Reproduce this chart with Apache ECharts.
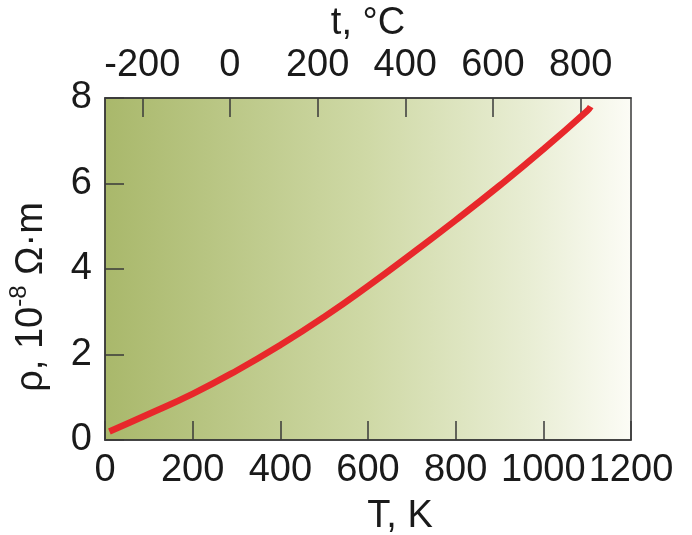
<!DOCTYPE html>
<html>
<head>
<meta charset="utf-8">
<script src="https://cdn.jsdelivr.net/npm/echarts@6/dist/echarts.min.js"></script>
<style>
  html, body { margin: 0; padding: 0; background: #ffffff; }
  #chart { width: 692px; height: 535px; }
</style>
</head>
<body>
<div id="chart"></div>
<script>
// Resistivity versus absolute temperature
const temperatureK = [10, 100, 200, 300, 400, 500, 600, 700, 800, 900, 1000, 1100, 1108];
const resistivity  = [0.20, 0.61, 1.08, 1.62, 2.22, 2.88, 3.60, 4.36, 5.14, 5.95, 6.80, 7.70, 7.80];

// Tick labels
const kelvinTicks = [0, 200, 400, 600, 800, 1000, 1200];
const celsiusTicks = [-200, 0, 200, 400, 600, 800];
const rhoTicks = [0, 2, 4, 6, 8];

const FONT = '"Liberation Sans", Arial, sans-serif';
const TXT = '#1a1a1a';
const AXIS = '#3a3a3a';
const FS = 38;

const chart = echarts.init(document.getElementById('chart'), null, { renderer: 'canvas' });

const points = temperatureK.map((t, i) => [t, resistivity[i]]);
const plain = v => String(v);

chart.setOption({
  animation: false,
  backgroundColor: '#ffffff',
  grid: {
    left: 105, right: 61, top: 98, bottom: 95,
    outerBoundsMode: 'none',
    containLabel: false,
    show: true,
    borderColor: AXIS,
    borderWidth: 1.5,
    backgroundColor: {
      type: 'linear', x: 0, y: 0, x2: 1, y2: 0,
      colorStops: [
        { offset: 0, color: '#a9b86b' },
        { offset: 0.5, color: '#cfd9a6' },
        { offset: 0.8, color: '#e8edd3' },
        { offset: 1, color: '#fcfcf6' }
      ]
    }
  },
  xAxis: [
    {
      type: 'value', position: 'bottom',
      min: kelvinTicks[0], max: kelvinTicks[kelvinTicks.length - 1], interval: 200,
      name: 'T, K', nameLocation: 'middle', nameGap: 58,
      nameTextStyle: { fontFamily: FONT, fontSize: FS, color: TXT, padding: [0, 0, 0, 64] },
      axisLine: { show: true, lineStyle: { color: AXIS, width: 1.5 } },
      axisTick: { show: true, inside: true, length: 19, lineStyle: { color: AXIS, width: 1.5 } },
      axisLabel: { fontFamily: FONT, fontSize: FS, color: TXT, margin: 12, formatter: plain,
                   showMinLabel: true, showMaxLabel: true, hideOverlap: false },
      splitLine: { show: false }
    },
    {
      type: 'value', position: 'top',
      min: -285, max: 915,
      name: 't, °C', nameLocation: 'middle', nameGap: 47,
      nameTextStyle: { fontFamily: FONT, fontSize: FS, color: TXT },
      axisLine: { show: true, lineStyle: { color: AXIS, width: 1.5 } },
      axisTick: { show: true, inside: true, length: 19, customValues: celsiusTicks,
                  lineStyle: { color: AXIS, width: 1.5 } },
      axisLabel: { fontFamily: FONT, fontSize: FS, color: TXT, margin: 13, customValues: celsiusTicks,
                   formatter: plain },
      splitLine: { show: false }
    }
  ],
  yAxis: [
    {
      type: 'value', position: 'left',
      min: rhoTicks[0], max: rhoTicks[rhoTicks.length - 1], interval: 2,
      name: '{n|ρ, 10}{s|-8}{n| Ω·m}', nameLocation: 'middle', nameGap: 54, nameRotate: 90,
      nameTextStyle: {
        fontFamily: FONT, color: TXT, padding: [0, 56, 0, 0],
        rich: {
          n: { fontFamily: FONT, fontSize: FS, color: TXT, verticalAlign: 'bottom', lineHeight: 44 },
          s: { fontFamily: FONT, fontSize: 24, color: TXT, verticalAlign: 'top', lineHeight: 44, padding: [0, 0, 16, 0] }
        }
      },
      axisLine: { show: true, lineStyle: { color: AXIS, width: 1.5 } },
      axisTick: { show: true, inside: true, length: 19, lineStyle: { color: AXIS, width: 1.5 } },
      axisLabel: { fontFamily: FONT, fontSize: FS, color: TXT, margin: 13, formatter: plain },
      splitLine: { show: false }
    }
  ],
  series: [
    {
      type: 'line',
      data: points,
      xAxisIndex: 0, yAxisIndex: 0,
      smooth: 0.5,
      symbol: 'none',
      lineStyle: { color: '#e8282b', width: 6.5, cap: 'butt' },
      z: 5
    }
  ]
});
</script>
</body>
</html>
